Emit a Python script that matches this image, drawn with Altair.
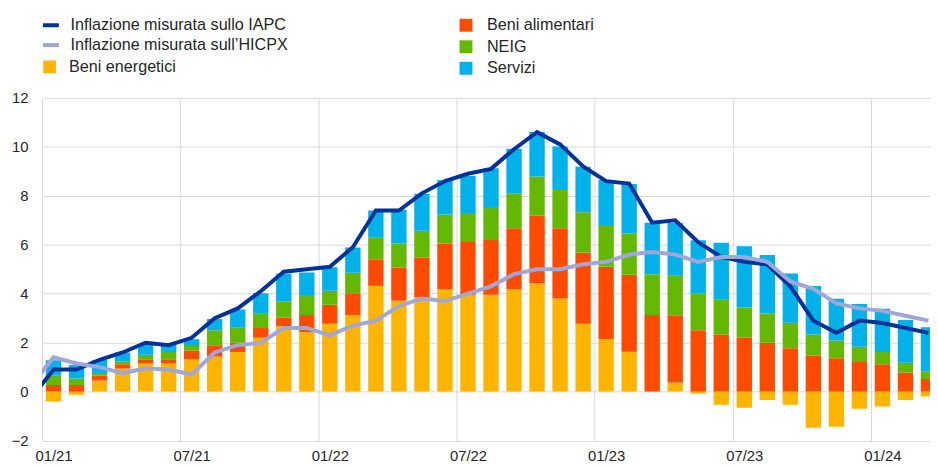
import altair as alt
import pandas as pd

# ---------------- data ----------------
months = [
    "01/21", "02/21", "03/21", "04/21", "05/21", "06/21", "07/21", "08/21", "09/21", "10/21", "11/21", "12/21",
    "01/22", "02/22", "03/22", "04/22", "05/22", "06/22", "07/22", "08/22", "09/22", "10/22", "11/22", "12/22",
    "01/23", "02/23", "03/23", "04/23", "05/23", "06/23", "07/23", "08/23", "09/23", "10/23", "11/23", "12/23",
    "01/24", "02/24", "03/24",
]
energy = [
    -0.40, -0.13, 0.45, 0.94, 1.15, 1.15, 1.32, 1.43, 1.62, 2.20, 2.67, 2.43,
    2.77, 3.13, 4.32, 3.71, 3.87, 4.19, 3.96, 3.96, 4.19, 4.43, 3.80, 2.77,
    2.15, 1.63, 0.00, 0.37, -0.08, -0.54, -0.66, -0.34, -0.54, -1.48, -1.44, -0.70,
    -0.61, -0.34, -0.20,
]
food = [
    0.27, 0.27, 0.20, 0.18, 0.17, 0.17, 0.36, 0.46, 0.38, 0.40, 0.35, 0.70,
    0.78, 0.89, 1.09, 1.35, 1.61, 1.86, 2.15, 2.23, 2.48, 2.75, 2.87, 2.91,
    2.95, 3.14, 3.13, 2.75, 2.51, 2.33, 2.20, 2.00, 1.77, 1.47, 1.36, 1.21,
    1.12, 0.78, 0.52,
]
neig = [
    0.38, 0.27, 0.11, 0.10, 0.19, 0.30, 0.18, 0.62, 0.61, 0.58, 0.67, 0.82,
    0.57, 0.84, 0.88, 0.99, 1.09, 1.19, 1.19, 1.35, 1.43, 1.61, 1.61, 1.65,
    1.71, 1.69, 1.66, 1.61, 1.51, 1.42, 1.24, 1.19, 1.04, 0.86, 0.73, 0.62,
    0.50, 0.40, 0.31,
]
services = [
    0.63, 0.55, 0.53, 0.38, 0.42, 0.28, 0.28, 0.46, 0.74, 0.84, 1.13, 0.92,
    0.96, 1.03, 1.11, 1.38, 1.51, 1.40, 1.51, 1.59, 1.82, 1.82, 1.73, 1.86,
    1.83, 2.02, 2.11, 2.16, 2.16, 2.33, 2.50, 2.39, 2.02, 1.98, 1.70, 1.75,
    1.77, 1.75, 1.80,
]
line_months = ["12/20"] + months
iapc = [
    -0.3,
    0.9, 0.9, 1.3, 1.6, 2.0, 1.9, 2.2, 3.0, 3.4, 4.1, 4.9, 5.0,
    5.1, 5.9, 7.4, 7.4, 8.1, 8.6, 8.9, 9.1, 9.9, 10.6, 10.1, 9.2,
    8.6, 8.5, 6.9, 7.0, 6.1, 5.5, 5.3, 5.2, 4.3, 2.9, 2.4, 2.9,
    2.8, 2.6, 2.4,
]
hicpx = [
    0.2,
    1.4, 1.15, 1.0, 0.75, 0.95, 0.9, 0.7, 1.6, 1.9, 2.0, 2.6, 2.6,
    2.3, 2.7, 2.9, 3.5, 3.8, 3.7, 4.0, 4.3, 4.8, 5.0, 5.0, 5.2,
    5.3, 5.6, 5.7, 5.6, 5.3, 5.5, 5.5, 5.3, 4.5, 4.2, 3.6, 3.4,
    3.3, 3.1, 2.9,
]
tick_labels = ["01/21", "07/21", "01/22", "07/22", "01/23", "07/23", "01/24"]
y_ticks = [-2, 0, 2, 4, 6, 8, 10, 12]

comp_names = ["Beni energetici", "Beni alimentari", "NEIG", "Servizi"]
comp_colors = ["#FFB400", "#FF4B00", "#65B800", "#00B1EA"]
series_names = ["Inflazione misurata sullo IAPC", "Inflazione misurata sull\u2019HICPX"]
series_colors = ["#003299", "#9FA6D8"]

# ---------------- tables ----------------
rows = []
for i, m in enumerate(months):
    for k, vals in enumerate([energy, food, neig, services]):
        rows.append({"t": i, "month": m, "component": comp_names[k], "k": k, "value": vals[i]})
bars_df = pd.DataFrame(rows)

lrows = []
for j, m in enumerate(line_months):
    lrows.append({"t": j - 1, "month": m, "series": series_names[0], "value": iapc[j]})
    lrows.append({"t": j - 1, "month": m, "series": series_names[1], "value": hicpx[j]})
lines_df = pd.DataFrame(lrows)

# ---------------- layout ----------------
FONT = "Liberation Sans"
TXT = "#262626"
GRID = "#d9d9d9"
PX_PER_MONTH = 23.22
PLOT_W = 895.5
PLOT_H = 345.6
X_END = -0.5 + PLOT_W / PX_PER_MONTH
LEG_Y = -81.4
ROW_STEP = 21.0

label_arr = "[" + ",".join("'%s'" % s for s in tick_labels) + "]"

x_enc = alt.X(
    "t:Q",
    scale=alt.Scale(domain=[-0.5, X_END], nice=False, zero=False, padding=0),
    axis=alt.Axis(
        values=[-0.5 + 6 * i for i in range(len(tick_labels))],
        grid=True, gridColor=GRID, gridWidth=1,
        domain=False, ticks=False, title=None,
        labelExpr=label_arr + "[round((datum.value + 0.5) / 6)]",
        labelOffset=PX_PER_MONTH / 2, labelPadding=8, labelFlush=False,
        labelOverlap=False, labelFont=FONT, labelFontSize=15, labelColor=TXT,
    ),
)
y_scale = alt.Scale(domain=[-2, 12], nice=False, zero=False, padding=0)
y_axis = alt.Axis(
    values=y_ticks, grid=True, gridColor=GRID, gridWidth=1,
    domain=False, ticks=False, title=None, labelPadding=14,
    labelFont=FONT, labelFontSize=15, labelColor=TXT,
)

leg_common = dict(
    title=None, orient="none", direction="vertical",
    labelFont=FONT, labelFontSize=16.3, labelColor=TXT, labelLimit=400,
    padding=0,
)

stroke_enc = alt.Stroke(
    "series:N",
    scale=alt.Scale(domain=series_names, range=series_colors),
    legend=alt.Legend(
        legendX=-1, legendY=LEG_Y - 1.85, symbolType="stroke", symbolSize=256,
        symbolStrokeWidth=4, labelOffset=9.7, rowPadding=1.0, **leg_common,
    ),
)

bars = alt.Chart(bars_df).mark_bar(width=15.5, clip=True).encode(
    x=x_enc,
    y=alt.Y("value:Q", stack="zero", scale=y_scale, axis=y_axis),
    fill=alt.Fill(
        "component:N",
        scale=alt.Scale(domain=comp_names, range=comp_colors),
        legend=alt.Legend(
            legendX=419.4, legendY=LEG_Y, values=comp_names[1:],
            symbolType="square", symbolSize=169, symbolStrokeWidth=0,
            labelOffset=13, rowPadding=4.7, **leg_common,
        ),
    ),
    order=alt.Order("k:Q", sort="ascending"),
)

# invisible layer only to give "Beni energetici" its own legend entry (left column)
energy_key = alt.Chart(bars_df).transform_filter(alt.datum.k == 0).mark_square(
    size=0, opacity=0, clip=True
).encode(
    x=x_enc,
    y=alt.Y("value:Q", scale=y_scale, axis=y_axis),
    color=alt.Color(
        "component:N",
        scale=alt.Scale(domain=comp_names[:1], range=comp_colors[:1]),
        legend=alt.Legend(
            legendX=-0.5, legendY=LEG_Y + 2 * ROW_STEP, symbolType="square",
            symbolSize=164, symbolStrokeWidth=0, symbolOpacity=1,
            symbolFillColor=comp_colors[0], labelOffset=11.4, rowPadding=4.7,
            **leg_common,
        ),
    ),
)

line1 = alt.Chart(lines_df).transform_filter(
    alt.datum.series == series_names[0]
).mark_line(strokeWidth=4, clip=True).encode(
    x=x_enc, y=alt.Y("value:Q", scale=y_scale, axis=y_axis), stroke=stroke_enc,
)
line2 = alt.Chart(lines_df).transform_filter(
    alt.datum.series == series_names[1]
).mark_line(strokeWidth=4, clip=True).encode(
    x=x_enc, y=alt.Y("value:Q", scale=y_scale, axis=y_axis), stroke=stroke_enc,
)

chart = alt.layer(bars, energy_key, line1, line2).properties(
    width=PLOT_W,
    height=PLOT_H,
    autosize=alt.AutoSizeParams(type="none"),
    padding={"left": 34.3, "top": 88.7, "right": 0, "bottom": 24},
    background="white",
).configure_view(strokeWidth=0)

chart.save("out.html", embed_options={"renderer": "svg", "actions": False})
